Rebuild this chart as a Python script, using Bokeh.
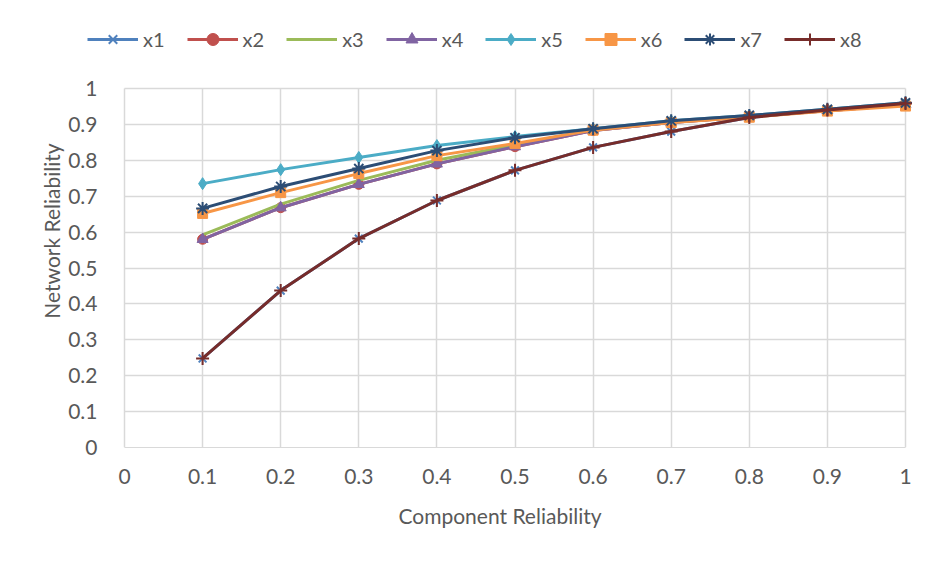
from bokeh.plotting import figure
from bokeh.models import Legend, LegendItem, FixedTicker, Range1d
from bokeh.embed import file_html
from bokeh.resources import INLINE

xs = [0.1, 0.2, 0.3, 0.4, 0.5, 0.6, 0.7, 0.8, 0.9, 1.0]
x1 = [0.248, 0.437, 0.582, 0.688, 0.772, 0.836, 0.880, 0.919, 0.940, 0.958]
x2 = [0.580, 0.668, 0.733, 0.790, 0.838, 0.883, 0.905, 0.921, 0.938, 0.955]
x3 = [0.592, 0.678, 0.744, 0.800, 0.843, 0.885, 0.906, 0.922, 0.939, 0.956]
x4 = [0.580, 0.668, 0.733, 0.790, 0.838, 0.883, 0.905, 0.921, 0.938, 0.955]
x5 = [0.735, 0.774, 0.808, 0.841, 0.866, 0.888, 0.910, 0.925, 0.942, 0.960]
x6 = [0.652, 0.710, 0.763, 0.813, 0.847, 0.884, 0.905, 0.920, 0.937, 0.951]
x7 = [0.666, 0.727, 0.777, 0.827, 0.863, 0.888, 0.910, 0.925, 0.942, 0.960]
x8 = [0.248, 0.437, 0.582, 0.688, 0.772, 0.836, 0.880, 0.919, 0.940, 0.958]

names = ["x1", "x2", "x3", "x4", "x5", "x6", "x7", "x8"]
series = [x1, x2, x3, x4, x5, x6, x7, x8]
colors = ["#4F81BD", "#C0504D", "#9BBB59", "#8064A2", "#4BACC6", "#F79646", "#2C4D75", "#772C2A"]
markers = ["x", "circle", None, "triangle", "diamond", "square", "asterisk", "cross"]
msizes = [11, 10, 0, 11, 12, 10, 13, 13]

ticks = [0, 0.1, 0.2, 0.3, 0.4, 0.5, 0.6, 0.7, 0.8, 0.9, 1.0]
tick_labels = ["0", "0.1", "0.2", "0.3", "0.4", "0.5", "0.6", "0.7", "0.8", "0.9", "1"]

FONT = "Lato"
TXT = "#595959"
GRID = "#D9D9D9"

# layout (pixels): data x 0..1 -> 124..905, data y 0..1 -> 447..88
W, H = 929, 554
FL, FR, FT, FB = 84, 915, 14, 447
X0, X1 = 124, 905
Y1 = 88
xs_px = (X1 - X0)
ys_px = (FB - Y1)

p = figure(width=W, height=H, output_backend="svg", toolbar_location=None,
           x_range=Range1d((FL - X0) / xs_px, 1 + (FR - X1) / xs_px),
           y_range=Range1d(0, (FB - FT) / ys_px),
           min_border_left=FL, min_border_right=W - FR, min_border_top=FT, min_border_bottom=H - FB)
p.outline_line_color = None
p.background_fill_color = "white"
p.border_fill_color = "white"

items = []
for name, ys, c, m, ms in zip(names, series, colors, markers, msizes):
    rs = [p.line(xs, ys, line_color=c, line_width=3)]
    if m is not None:
        lw = 2 if m in ("x", "asterisk", "cross") else 1
        rs.append(p.scatter(xs, ys, marker=m, size=ms, fill_color=c, line_color=c, line_width=lw))
    items.append(LegendItem(label=name, renderers=rs))

legend = Legend(items=items, orientation="horizontal", location=(3, 393),
                label_text_font=FONT, label_text_font_size="20px", label_text_color=TXT,
                glyph_width=51, glyph_height=30, spacing=22, label_standoff=5,
                border_line_color=None, background_fill_alpha=0, padding=3, margin=0)
p.add_layout(legend, "center")

for ax in (p.xaxis, p.yaxis):
    ax.ticker = FixedTicker(ticks=ticks)
    ax.major_label_overrides = {t: l for t, l in zip(ticks, tick_labels)}
    ax.major_label_text_font = FONT
    ax.major_label_text_font_size = "21px"
    ax.major_label_text_color = TXT
    ax.axis_label_text_font = FONT
    ax.axis_label_text_font_size = "21px"
    ax.axis_label_text_font_style = "normal"
    ax.axis_label_text_color = TXT
    ax.major_tick_line_color = None
    ax.minor_tick_line_color = None

p.xaxis.bounds = (0, 1)
p.yaxis.bounds = (0, 1)
p.xaxis.axis_line_color = GRID
p.yaxis.axis_line_color = None
p.xaxis.axis_label = "Component Reliability"
p.yaxis.axis_label = "Network Reliability"
p.xaxis.major_label_standoff = 15
p.xaxis.axis_label_standoff = 16
p.yaxis.major_label_standoff = -(X0 - FL) + 21
p.yaxis.axis_label_standoff = 1

p.xgrid.grid_line_color = GRID
p.ygrid.grid_line_color = GRID
p.xgrid.grid_line_width = 1.5
p.ygrid.grid_line_width = 1.5
p.xgrid.cross_bounds = (0, 1)
p.ygrid.cross_bounds = (0, 1)

open("out.html", "w").write(file_html(p, INLINE))
